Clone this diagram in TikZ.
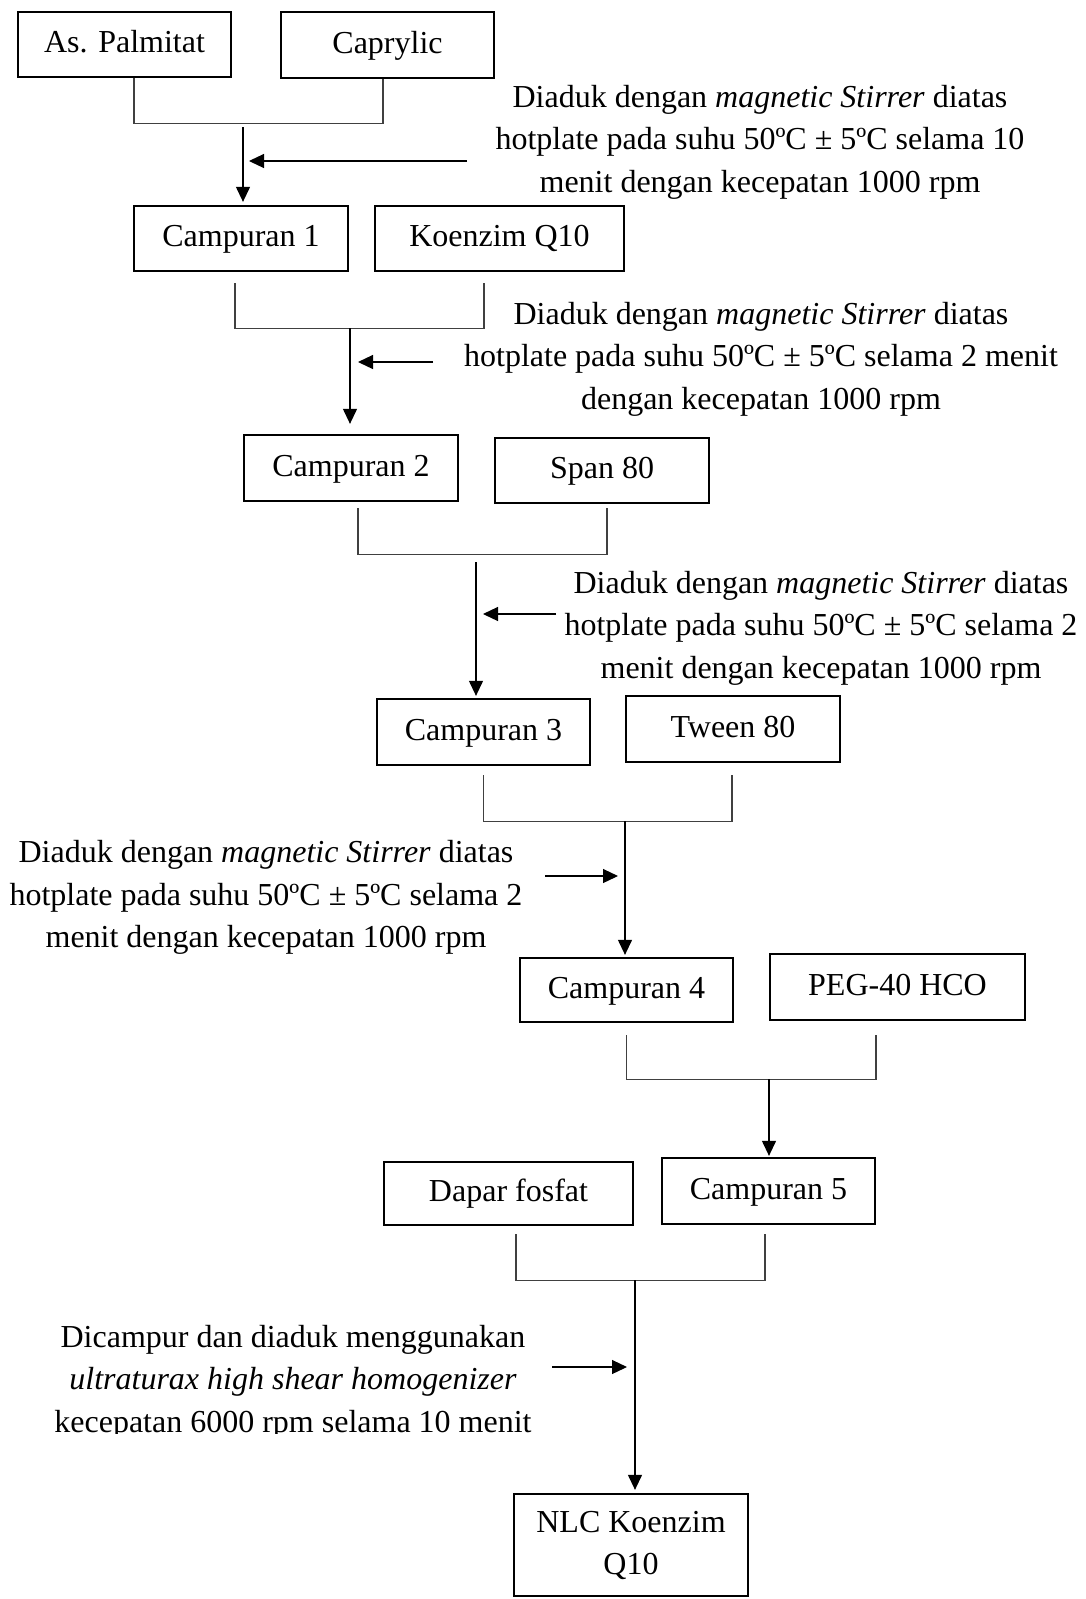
\documentclass[tikz,border=0pt]{standalone}
\usepackage{fontspec}
\setmainfont{Liberation Serif}
\usetikzlibrary{arrows.meta}
\begin{document}
\begin{tikzpicture}[x=1pt,y=-1pt,
  box/.style={draw=black,line width=2.3pt,inner sep=0pt,font=\fontsize{32}{42.5}\selectfont,text height=24pt,text depth=7.5pt},
  note/.style={align=center,inner sep=0pt,font=\fontsize{32}{42.5}\selectfont},
  bracket/.style={draw=black!75,line width=1.1pt},
  arr/.style={draw=black,line width=1.2pt,-{Triangle[length=15pt,width=14pt]}}]
\useasboundingbox (0,0) rectangle (1086,1599);
\fill[white] (0,0) rectangle (1086,1599);

% boxes
\node[box,minimum width=213pt,minimum height=65pt] (pal) at (124.5,44.5) {As. Palmitat};
\node[box,minimum width=213pt,minimum height=66pt] (cap) at (387.5,45) {Caprylic};
\node[box,minimum width=214pt,minimum height=65pt] (c1) at (241,238.5) {Campuran 1};
\node[box,minimum width=249pt,minimum height=65pt] (kq) at (499.5,238.5) {Koenzim Q10};
\node[box,minimum width=214pt,minimum height=66pt] (c2) at (351,468) {Campuran 2};
\node[box,minimum width=214pt,minimum height=65pt] (sp) at (602,470.5) {Span 80};
\node[box,minimum width=213pt,minimum height=66pt] (c3) at (483.5,732) {Campuran 3};
\node[box,minimum width=214pt,minimum height=66pt] (tw) at (733,729) {Tween 80};
\node[box,minimum width=213pt,minimum height=64pt] (c4) at (626.5,990) {Campuran 4};
\node[box,minimum width=255pt,minimum height=66pt] (peg) at (897.5,987) {PEG-40 HCO};
\node[box,minimum width=249pt,minimum height=63pt] (dap) at (508.5,1193.5) {Dapar fosfat};
\node[box,minimum width=213pt,minimum height=66pt] (c5) at (768.5,1191) {Campuran 5};
\node[draw=black,line width=2.3pt,inner sep=0pt,align=center,font=\fontsize{32}{42}\selectfont,minimum width=234pt,minimum height=102pt] (nlc) at (631,1545) {\raisebox{-3pt}{NLC Koenzim}\\\raisebox{-3pt}{Q10}};

% notes
\node[note] (t1) at (760,142) {Diaduk dengan \textit{magnetic Stirrer} diatas\\hotplate pada suhu 50ºC ± 5ºC selama 10\\menit dengan kecepatan 1000 rpm};
\node[note] (t2) at (761,359) {Diaduk dengan \textit{magnetic Stirrer} diatas\\hotplate pada suhu 50ºC ± 5ºC selama 2 menit\\dengan kecepatan 1000 rpm};
\node[note] (t3) at (821,628) {Diaduk dengan \textit{magnetic Stirrer} diatas\\hotplate pada suhu 50ºC ± 5ºC selama 2\\menit dengan kecepatan 1000 rpm};
\node[note] (t4) at (266,897.5) {Diaduk dengan \textit{magnetic Stirrer} diatas\\hotplate pada suhu 50ºC ± 5ºC selama 2\\menit dengan kecepatan 1000 rpm};
\begin{scope}
\clip (0,1290) rectangle (1086,1433);
\node[note] (t5) at (293,1382) {Dicampur dan diaduk menggunakan\\\textit{ultraturax high shear homogenizer}\\kecepatan 6000 rpm selama 10 menit};
\end{scope}

% brackets
\draw[bracket] ([xshift=9.5pt]pal.south) -- ++(0,45) -| ([xshift=-4.5pt]cap.south);
\draw[bracket] ([xshift=-6pt,yshift=-11pt]c1.south) -- ++(0,45) -| ([xshift=-15.5pt,yshift=-11pt]kq.south);
\draw[bracket] ([xshift=7pt,yshift=-6pt]c2.south) -- ++(0,46) -| ([xshift=5pt,yshift=-4pt]sp.south);
\draw[bracket] ([yshift=-9pt]c3.south) -- ++(0,46) -| ([xshift=-1pt,yshift=-12pt]tw.south);
\draw[bracket] ([yshift=-12pt]c4.south) -- ++(0,44) -| ([xshift=-21.5pt,yshift=-14pt]peg.south);
\draw[bracket] ([xshift=7.5pt,yshift=-8pt]dap.south) -- ++(0,46) -| ([xshift=-3.5pt,yshift=-9pt]c5.south);

% junctions
\coordinate (j1) at (243,127);
\coordinate (j2) at (350,328);
\coordinate (j3) at (476,562);
\coordinate (j4) at (625,821);
\coordinate (j5) at (769,1079);
\coordinate (j6) at (635,1280);

% down arrows
\draw[arr,shorten >=3pt] (j1) -- (j1 |- c1.north);
\draw[arr,shorten >=10pt] (j2) -- (j2 |- c2.north);
\draw[arr,shorten >=2pt] (j3) -- (j3 |- c3.north);
\draw[arr,shorten >=2pt] (j4) -- (j4 |- c4.north);
\draw[arr,shorten >=1pt] (j5) -- (j5 |- c5.north);
\draw[arr,shorten >=3pt] (j6) -- (j6 |- nlc.north);

% side arrows
\coordinate (s1) at (467,161);
\coordinate (s2) at (433,362);
\coordinate (s3) at (556,614);
\coordinate (s4) at (545,876);
\coordinate (s6) at (552,1367);
\draw[arr,shorten >=6pt] (s1) -- (s1 -| j1);
\draw[arr,shorten >=8pt] (s2) -- (s2 -| j2);
\draw[arr,shorten >=7pt] (s3) -- (s3 -| j3);
\draw[arr,shorten >=7pt] (s4) -- (s4 -| j4);
\draw[arr,shorten >=8pt] (s6) -- (s6 -| j6);
\end{tikzpicture}
\end{document}
